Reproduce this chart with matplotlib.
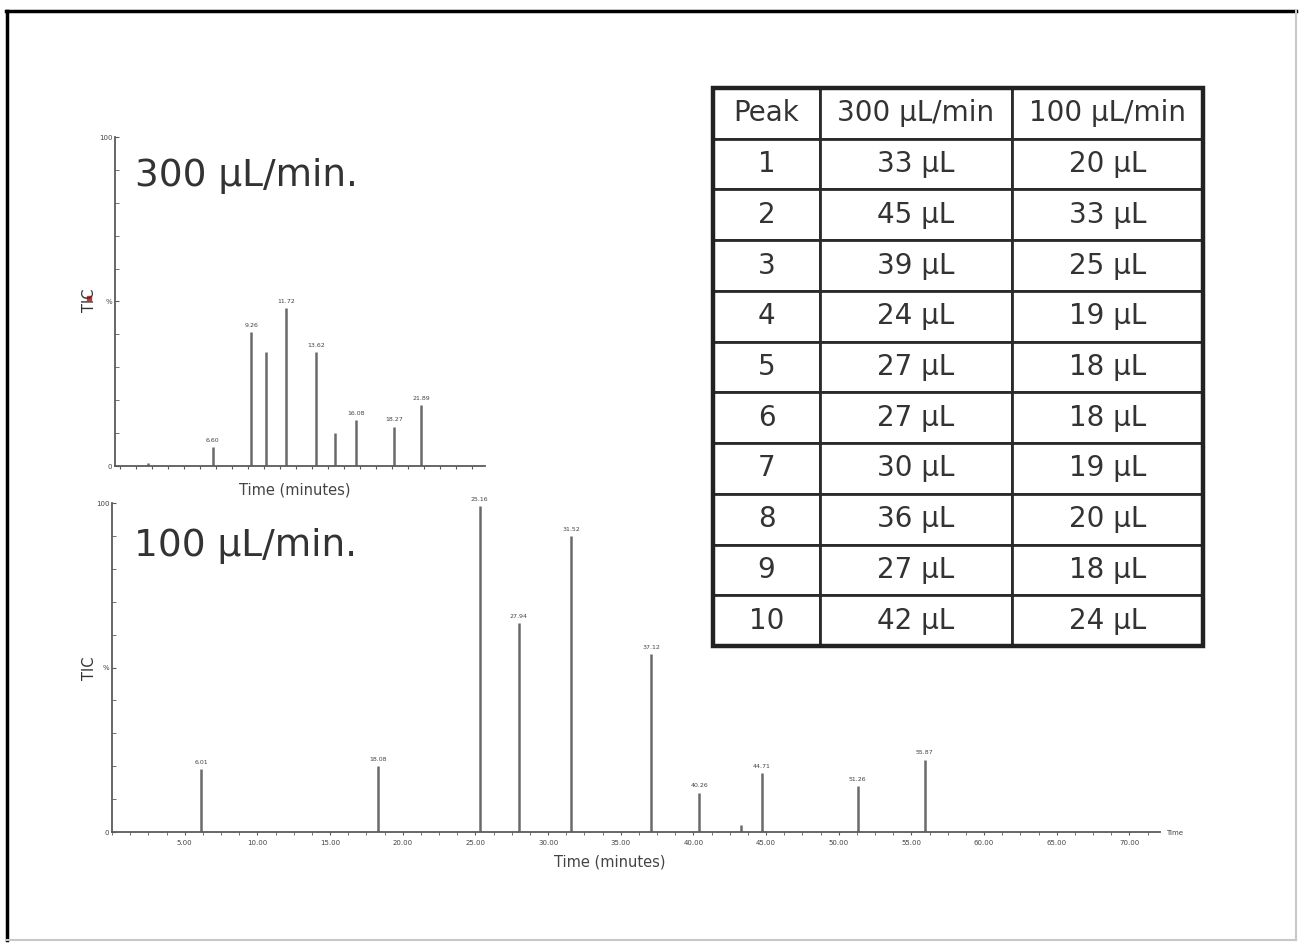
import matplotlib.pyplot as plt
from matplotlib.lines import Line2D
from matplotlib.ticker import MultipleLocator

# 300 uL/min run (top panel)
top_times = [6.8, 9.2, 10.1, 11.4, 13.25, 14.4, 15.75, 18.1, 19.8, 2.75]
top_heights = [5.8, 40.7, 34.7, 48.0, 34.7, 10.0, 14.0, 12.0, 18.5, 1.0]
top_labels = ["6.60", "9.26", "", "11.72", "13.62", "", "16.08", "18.27", "21.89", ""]

# 100 uL/min run (bottom panel)
bot_times = [6.12, 18.3, 25.3, 28.0, 31.6, 37.1, 40.4, 43.3, 44.7, 51.3, 55.9]
bot_heights = [19.0, 20.0, 99.0, 63.5, 90.0, 54.0, 12.0, 2.0, 18.0, 14.0, 22.0]
bot_labels = ["6.01", "18.08", "25.16", "27.94", "31.52", "37.12", "40.26", "", "44.71", "51.26", "55.87"]

# peak volume table
peaks = ["1", "2", "3", "4", "5", "6", "7", "8", "9", "10"]
vol_300 = [33, 45, 39, 24, 27, 27, 30, 36, 27, 42]
vol_100 = [20, 33, 25, 19, 18, 18, 19, 20, 18, 24]

W, H = 1301, 946
fig = plt.figure(figsize=(W / 100, H / 100), dpi=100)
plt.rcParams['font.family'] = ['DejaVu Sans']

def fx(px):
    return px / W

def fy(py):
    return 1 - py / H

# outer frame
fig.add_artist(Line2D([fx(7), fx(7)], [fy(11), fy(940)], color='black', lw=2.5))
fig.add_artist(Line2D([fx(6), fx(1296)], [fy(11), fy(11)], color='black', lw=2.5))
fig.add_artist(Line2D([fx(1296), fx(1296)], [fy(11), fy(940)], color='#c8c8c8', lw=1.5))
fig.add_artist(Line2D([fx(6), fx(1296)], [fy(940), fy(940)], color='#c8c8c8', lw=1.5))

line_col = '#5a5a5a'


def style_axis(ax):
    for s in ['top', 'right']:
        ax.spines[s].set_visible(False)
    for s in ['left', 'bottom']:
        ax.spines[s].set_color(line_col)
        ax.spines[s].set_linewidth(1.3)
    ax.set_ylim(0, 100)
    ax.set_yticks([0, 50, 100])
    ax.set_yticklabels(['0', '%', '100'], fontsize=5, color='#444')
    ax.yaxis.set_minor_locator(MultipleLocator(10))
    ax.tick_params(axis='y', which='both', direction='in', length=3, color=line_col, pad=2)
    ax.patch.set_alpha(0)


def draw_peaks(ax, times, heights, labels):
    ax.vlines(times, 0, heights, color='#6a6a6a', lw=1.8)
    for t, h, lab in zip(times, heights, labels):
        if lab:
            ax.annotate(lab, (t, h), xytext=(0, 3), textcoords='offset points',
                        ha='center', va='bottom', fontsize=4.5, color='#444')


# top panel
ax1 = fig.add_axes([fx(115), fy(466), fx(485) - fx(115), fy(137) - fy(466)])
style_axis(ax1)
ax1.set_xlim(0.69, 23.8)
ax1.xaxis.set_major_locator(MultipleLocator(1))
ax1.tick_params(axis='x', direction='out', length=2.5, color=line_col, labelbottom=False)
draw_peaks(ax1, top_times, top_heights, top_labels)
ax1.text(0.055, 0.88, "300 μL/min.", transform=ax1.transAxes, fontsize=27,
         color='#333', va='center', ha='left')

# bottom panel
ax2 = fig.add_axes([fx(112), fy(832), fx(1160) - fx(112), fy(503) - fy(832)])
style_axis(ax2)
ax2.set_xlim(0, 72.1)
ax2.set_xticks(range(5, 75, 5))
ax2.set_xticklabels([f"{v}.00" for v in range(5, 75, 5)], fontsize=5, color='#444')
ax2.xaxis.set_minor_locator(MultipleLocator(1.25))
ax2.tick_params(axis='x', which='both', direction='out', length=2.5, color=line_col, pad=3)
draw_peaks(ax2, bot_times, bot_heights, bot_labels)
ax2.text(0.021, 0.87, "100 μL/min.", transform=ax2.transAxes, fontsize=27,
         color='#333', va='center', ha='left')

# axis titles
fig.text(fx(295), fy(490), "Time (minutes)", fontsize=10.5, color='#444', ha='center', va='center')
fig.text(fx(610), fy(862), "Time (minutes)", fontsize=10.5, color='#444', ha='center', va='center')
fig.text(fx(1175), fy(833), "Time", fontsize=5, color='#444', ha='center', va='center')
fig.text(fx(89), fy(300), "TIC", fontsize=10.5, color='#333', rotation=90, ha='center', va='center')
fig.text(fx(89), fy(668), "TIC", fontsize=10.5, color='#333', rotation=90, ha='center', va='center')
fig.add_artist(Line2D([fx(89)], [fy(298)], marker='s', markersize=3.5, color='#d03030', lw=0))

# table
axt = fig.add_axes([fx(713), fy(646), fx(1203) - fx(713), fy(88) - fy(646)])
axt.axis('off')
cells = [[p, f"{a} μL", f"{b} μL"] for p, a, b in zip(peaks, vol_300, vol_100)]
tab = axt.table(cellText=cells, colLabels=["Peak", "300 μL/min", "100 μL/min"],
                colWidths=[107, 192, 191], cellLoc='center', bbox=[0, 0, 1, 1])
tab.auto_set_font_size(False)
for (r, c), cell in tab.get_celld().items():
    cell.set_linewidth(2)
    cell.set_edgecolor('#2a2a2a')
    cell.get_text().set_fontsize(20)
    cell.get_text().set_color('#333')
axt.add_patch(plt.Rectangle((0, 0), 1, 1, transform=axt.transAxes, fill=False,
                            lw=3.2, edgecolor='#222', clip_on=False))

fig.savefig("out.png", dpi=100)
